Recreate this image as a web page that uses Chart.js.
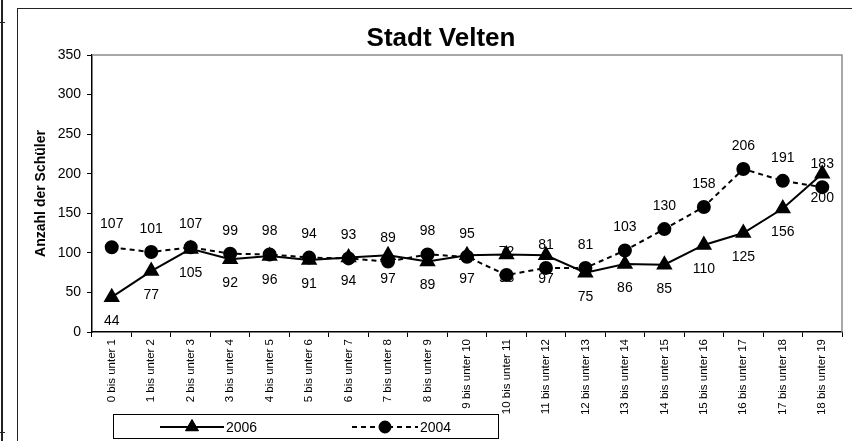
<!DOCTYPE html>
<html>
<head>
<meta charset="utf-8">
<script src="https://cdn.jsdelivr.net/npm/chart.js@4"></script>
<style>
  html, body { margin: 0; padding: 0; background: #fff; overflow: hidden; }
  #wrap { position: relative; width: 852px; height: 441px; }
  #leftFrag { position: absolute; left: 1px; top: 0; width: 2px; height: 441px; background: #222; }
  .fragTick { position: absolute; left: 0; width: 5px; height: 1px; background: #222; }
  #frame { position: absolute; left: 17px; top: 8px; width: 900px; height: 500px; border: 1px solid #222; box-sizing: border-box; }
  canvas { position: absolute; left: 0; top: 0; }
</style>
</head>
<body>
<div id="wrap">
  <div id="leftFrag"></div>
  <div class="fragTick" style="top:22px"></div>
  <div class="fragTick" style="top:432px"></div>
  <div id="frame"></div>
  <canvas id="c" width="852" height="441"></canvas>
</div>
<script>
// categories and series
const ageGroups = [
    "0 bis unter 1", "1 bis unter 2", "2 bis unter 3", "3 bis unter 4", "4 bis unter 5",
    "5 bis unter 6", "6 bis unter 7", "7 bis unter 8", "8 bis unter 9", "9 bis unter 10",
    "10 bis unter 11", "11 bis unter 12", "12 bis unter 13", "13 bis unter 14", "14 bis unter 15",
    "15 bis unter 16", "16 bis unter 17", "17 bis unter 18", "18 bis unter 19"
];
const values2006 = [44, 77, 105, 92, 96, 91, 94, 97, 89, 97, 98, 97, 75, 86, 85, 110, 125, 156, 200];
const values2004 = [107, 101, 107, 99, 98, 94, 93, 89, 98, 95, 72, 81, 81, 103, 130, 158, 206, 191, 183];
const yTicks = [0, 50, 100, 150, 200, 250, 300, 350];

const chartTitle = "Stadt Velten";
const yAxisTitle = "Anzahl der Schüler";
const FONT = "'Liberation Sans', Arial, sans-serif";

// labels below for 2006, above for 2004 (like the Excel original)
const labelOffsets = [24, -23];

const extrasPlugin = {
    id: 'extras',
    afterDatasetsDraw(chart) {
        const ctx = chart.ctx;
        ctx.save();
        ctx.fillStyle = '#000';
        ctx.font = '14px ' + FONT;
        ctx.textAlign = 'center';
        ctx.textBaseline = 'middle';
        chart.data.datasets.forEach((ds, di) => {
            const meta = chart.getDatasetMeta(di);
            meta.data.forEach((pt, i) => {
                ctx.fillText(String(ds.data[i]), pt.x, pt.y + labelOffsets[di]);
            });
        });
        ctx.restore();
    },
    afterDraw(chart) {
        const ctx = chart.ctx;
        const area = chart.chartArea;
        ctx.save();

        // grey plot border top / right
        ctx.strokeStyle = '#8c8c8c';
        ctx.lineWidth = 1.5;
        ctx.beginPath();
        ctx.moveTo(area.left, area.top);
        ctx.lineTo(area.right, area.top);
        ctx.lineTo(area.right, area.bottom);
        ctx.stroke();

        // title
        ctx.fillStyle = '#000';
        ctx.font = 'bold 26px ' + FONT;
        ctx.textAlign = 'center';
        ctx.textBaseline = 'middle';
        ctx.fillText(chartTitle, 441, 39);

        // y axis title
        ctx.save();
        ctx.translate(41, (area.top + area.bottom) / 2);
        ctx.rotate(-Math.PI / 2);
        ctx.font = 'bold 14px ' + FONT;
        ctx.fillText(yAxisTitle, 0, 0);
        ctx.restore();

        // legend
        ctx.strokeStyle = '#000';
        ctx.lineWidth = 1;
        ctx.strokeRect(113.5, 414.5, 385, 24);
        const ly = 427;
        const items = [
            { ds: chart.data.datasets[0], x0: 160, x1: 224, tx: 226 },
            { ds: chart.data.datasets[1], x0: 352, x1: 418, tx: 420 }
        ];
        items.forEach(it => {
            ctx.save();
            ctx.strokeStyle = it.ds.borderColor;
            ctx.lineWidth = it.ds.borderWidth;
            ctx.setLineDash(it.ds.borderDash || []);
            ctx.beginPath();
            ctx.moveTo(it.x0, ly);
            ctx.lineTo(it.x1, ly);
            ctx.stroke();
            ctx.restore();
            Chart.helpers.drawPoint(ctx, {
                pointStyle: it.ds.pointStyle,
                radius: it.ds.pointRadius,
                borderWidth: 1
            }, (it.x0 + it.x1) / 2, ly);
            ctx.fillStyle = '#000';
            ctx.fill();
            ctx.font = '14px ' + FONT;
            ctx.textAlign = 'left';
            ctx.textBaseline = 'middle';
            ctx.fillText(it.ds.label, it.tx, ly + 1);
        });

        ctx.restore();
    }
};

new Chart(document.getElementById('c').getContext('2d'), {
    type: 'line',
    data: {
        labels: ageGroups,
        datasets: [
            {
                label: '2006',
                data: values2006,
                borderColor: '#000',
                backgroundColor: '#000',
                borderWidth: 2,
                pointStyle: 'triangle',
                pointRadius: 7.5,
                pointBackgroundColor: '#000',
                pointBorderColor: '#000',
                tension: 0
            },
            {
                label: '2004',
                data: values2004,
                borderColor: '#000',
                backgroundColor: '#000',
                borderWidth: 2,
                borderDash: [5, 4],
                pointStyle: 'circle',
                pointRadius: 6,
                pointBackgroundColor: '#000',
                pointBorderColor: '#000',
                tension: 0
            }
        ]
    },
    options: {
        responsive: false,
        animation: false,
        devicePixelRatio: 1,
        layout: { padding: { left: 0, top: 55, right: 10, bottom: 27 } },
        plugins: {
            legend: { display: false },
            title: { display: false },
            tooltip: { enabled: false }
        },
        scales: {
            x: {
                type: 'category',
                offset: true,
                grid: {
                    offset: true,
                    drawOnChartArea: false,
                    drawTicks: true,
                    tickLength: 5,
                    color: '#000'
                },
                border: { display: true, color: '#000', width: 1.5 },
                ticks: {
                    color: '#000',
                    font: { family: FONT, size: 11.5 },
                    minRotation: 90,
                    maxRotation: 90,
                    autoSkip: false,
                    padding: 2
                },
                afterFit(scale) { scale.height = 82; }
            },
            y: {
                min: 0,
                max: 350,
                afterBuildTicks(scale) { scale.ticks = yTicks.map(v => ({ value: v })); },
                grid: {
                    drawOnChartArea: false,
                    drawTicks: true,
                    tickLength: 5,
                    color: '#000'
                },
                border: { display: true, color: '#000', width: 1.5 },
                ticks: {
                    color: '#000',
                    font: { family: FONT, size: 14 },
                    padding: 6
                },
                afterFit(scale) { scale.width = 92; }
            }
        }
    },
    plugins: [extrasPlugin]
});
</script>
</body>
</html>
